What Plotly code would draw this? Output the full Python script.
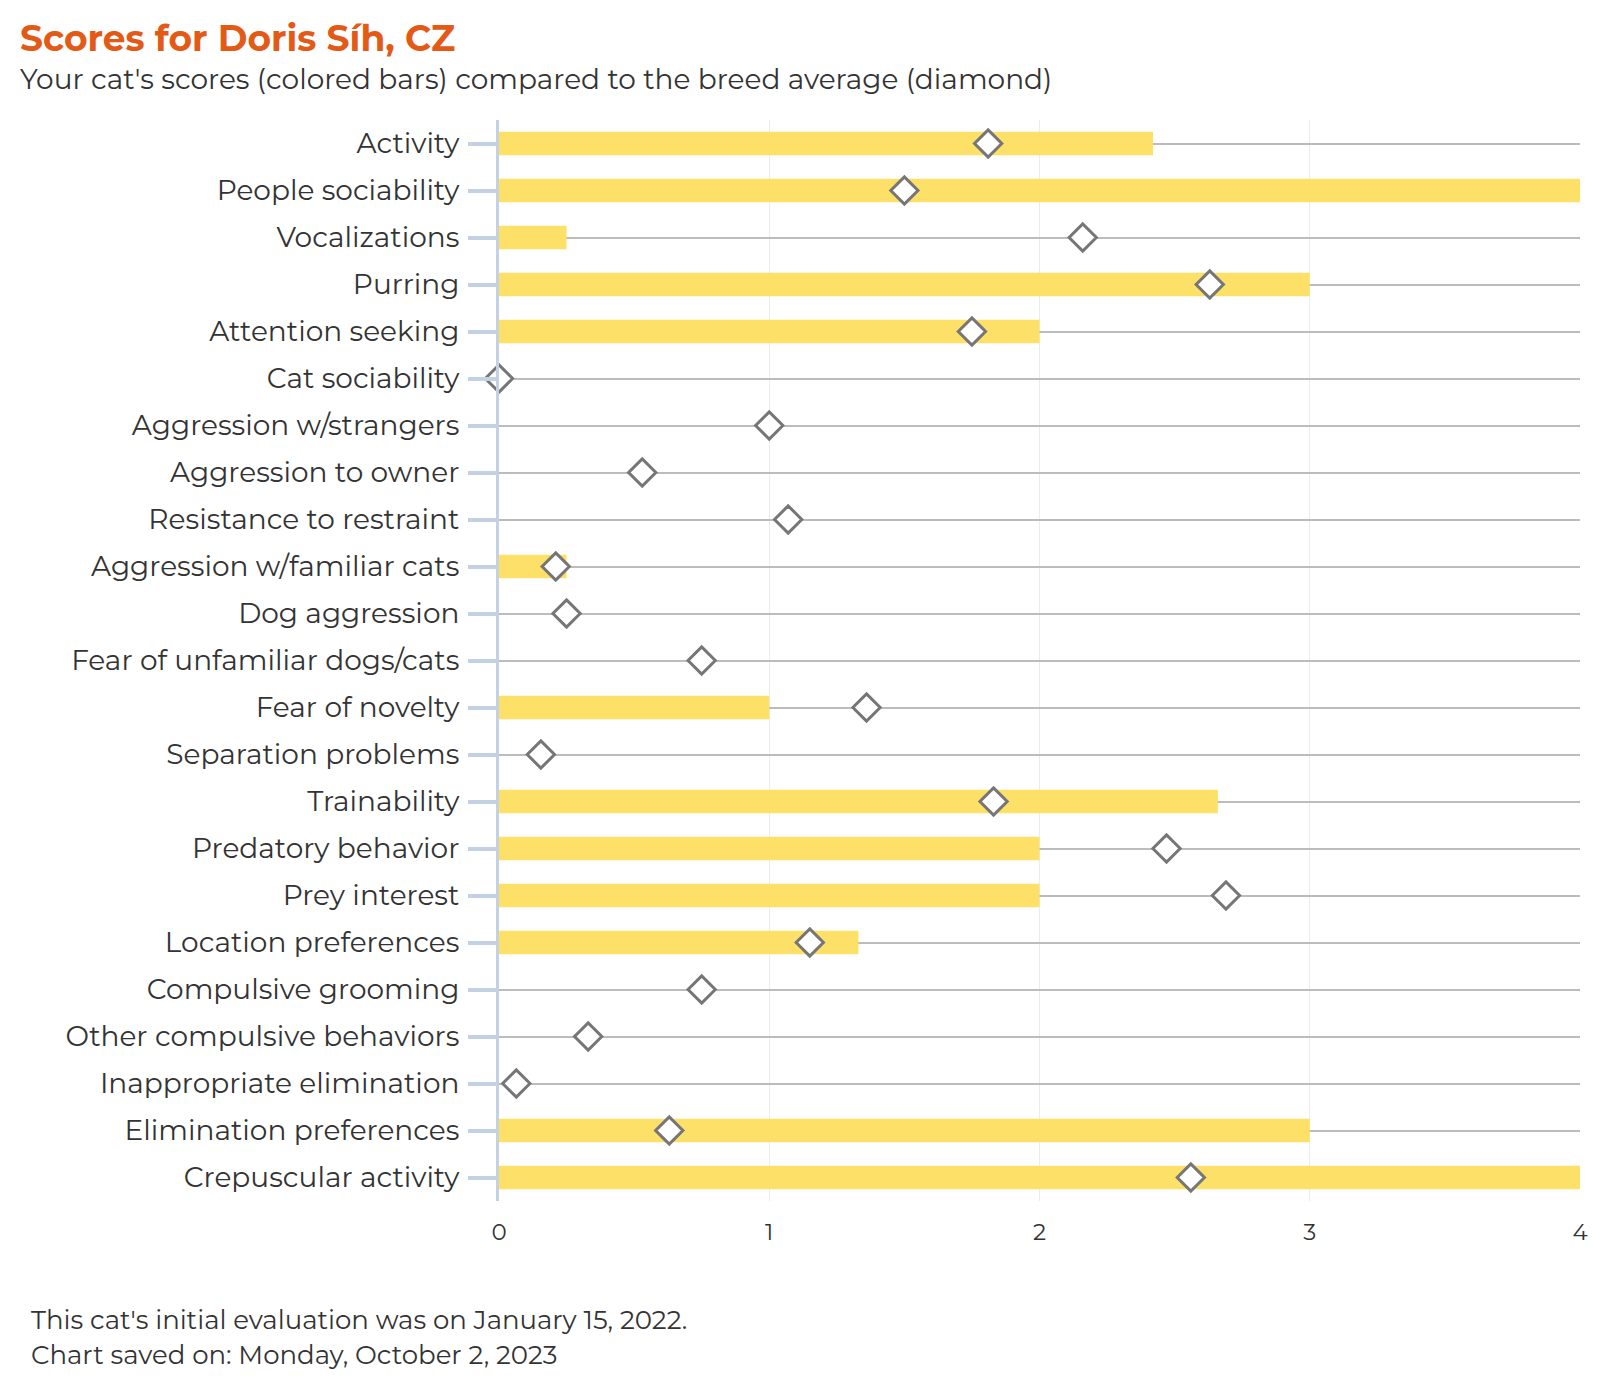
import plotly.graph_objects as go

categories = ["Activity", "People sociability", "Vocalizations", "Purring", "Attention seeking",
              "Cat sociability", "Aggression w/strangers", "Aggression to owner",
              "Resistance to restraint", "Aggression w/familiar cats", "Dog aggression",
              "Fear of unfamiliar dogs/cats", "Fear of novelty", "Separation problems",
              "Trainability", "Predatory behavior", "Prey interest", "Location preferences",
              "Compulsive grooming", "Other compulsive behaviors", "Inappropriate elimination",
              "Elimination preferences", "Crepuscular activity"]
cat_scores = [2.42, 4, 0.25, 3, 2, 0, 0, 0, 0, 0.25, 0, 0, 1, 0, 2.66, 2, 2, 1.33, 0, 0, 0, 3, 4]
breed_avg = [1.81, 1.50, 2.16, 2.63, 1.75, 0, 1.0, 0.53, 1.07, 0.21, 0.25, 0.75, 1.36, 0.155,
             1.83, 2.47, 2.69, 1.15, 0.75, 0.33, 0.064, 0.63, 2.56]
x_ticks = [0, 1, 2, 3, 4]

FONT = "Montserrat, 'DejaVu Sans', sans-serif"

fig = go.Figure()
fig.add_trace(go.Bar(
    y=categories, x=cat_scores, orientation="h",
    marker=dict(color="#fde068", line=dict(width=0)),
    width=0.5, showlegend=False, hoverinfo="x+y"))
fig.add_trace(go.Scatter(
    y=categories, x=breed_avg, mode="markers",
    marker=dict(symbol="diamond", size=21, color="white", line=dict(color="#767676", width=3)),
    cliponaxis=False, showlegend=False))

W, H = 1600, 1400
L, R, T, B = 499, 20, 120, 199
pw = W - L - R
ph = H - T - B

def px(x):
    return (x - L) / pw

def py(y):
    return (H - B - y) / ph

n = len(categories)

fig.update_layout(
    width=W, height=H,
    margin=dict(l=L, r=R, t=T, b=B),
    paper_bgcolor="white", plot_bgcolor="white",
    font=dict(family=FONT, color="#333333", size=28),
    bargap=0.5,
    xaxis=dict(range=[0, 4], tickvals=x_ticks, showgrid=True, gridcolor="#ececec", gridwidth=1,
               zeroline=False, showline=False, ticks="outside", ticklen=10, tickcolor="rgba(0,0,0,0)",
               tickfont=dict(size=23, color="#333333")),
    yaxis=dict(range=[n - 0.5, -0.5], showgrid=True, gridcolor="#bcbcbc", gridwidth=2,
               showline=True, linecolor="#c3d1e2", linewidth=3,
               ticks="outside", ticklen=28, tickwidth=4, tickcolor="#c3d1e2",
               ticklabelstandoff=3,
               tickfont=dict(size=28, color="#333333")),
    annotations=[
        dict(text="<b>Scores for Doris Síh, CZ</b>", xref="paper", yref="paper",
             x=px(18), y=py(38), xanchor="left", yanchor="middle", showarrow=False,
             font=dict(size=36, color="#e35a16", family=FONT)),
        dict(text="Your cat's scores (colored bars) compared to the breed average (diamond)",
             xref="paper", yref="paper", x=px(18), y=py(79), xanchor="left", yanchor="middle",
             showarrow=False, font=dict(size=28, color="#333333", family=FONT)),
        dict(text="This cat's initial evaluation was on January 15, 2022.",
             xref="paper", yref="paper", x=px(29), y=py(1320), xanchor="left", yanchor="middle",
             showarrow=False, font=dict(size=26, color="#333333", family=FONT)),
        dict(text="Chart saved on: Monday, October 2, 2023",
             xref="paper", yref="paper", x=px(29), y=py(1355), xanchor="left", yanchor="middle",
             showarrow=False, font=dict(size=26, color="#333333", family=FONT)),
    ],
)

fig.write_html("out.html", config={"displayModeBar": False},
               post_script="document.body.style.margin='0';document.body.style.overflow='hidden';")
